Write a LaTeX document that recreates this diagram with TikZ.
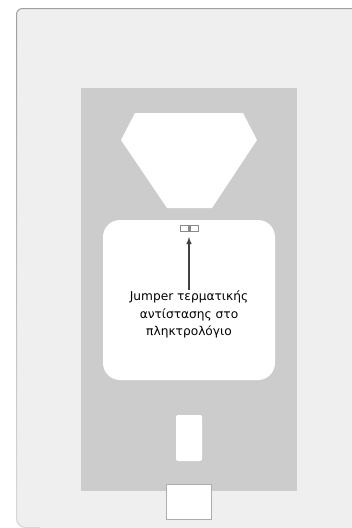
\documentclass[tikz,border=0pt]{standalone}
\usepackage{fontspec}
\setmainfont{DejaVu Sans}
\definecolor{casefill}{HTML}{EFEFEF}
\definecolor{caseline}{HTML}{A0A0A0}
\definecolor{boardfill}{HTML}{CCCCCC}
\definecolor{jumperline}{HTML}{8A8A8A}
\tikzset{
    cutout/.style={fill=white,draw=none},
    jumperpin/.style={draw=jumperline,line width=1.5pt,fill=white,minimum width=8.5pt,minimum height=6pt,inner sep=0pt},
    label/.style={font=\fontsize{12.2pt}{17.6pt}\selectfont,text=black,align=center,inner sep=1pt},
}
\begin{document}
\begin{tikzpicture}[x=1pt,y=-1pt]
    \useasboundingbox (0,0) rectangle (352,528);
    \fill[white] (0,0) rectangle (352,528);
    % housing and board
    \fill[casefill,rounded corners=9pt] (16,8) -- (370,8) -- (370,528) -- (16,528) -- cycle;
    \draw[caseline,line width=1pt,rounded corners=6pt] (16.5,20) -- (16.5,8.5) -- (352,8.5);
    \shade[top color=caseline,bottom color=caseline!30!casefill] (16,20) rectangle (17,516);
    \draw[caseline!30!casefill,line width=1pt,rounded corners=9pt] (16.5,516) -- (16.5,527.5) -- (40,527.5);
    \fill[boardfill] (81,88) rectangle (297,491);
    % openings
    \fill[cutout] (135,113) -- (243,113) -- (257,140) -- (212,208) -- (167,208) -- (121,140) -- cycle;
    \fill[cutout,rounded corners=17pt] (103,220) rectangle (275,380);
    \fill[cutout,rounded corners=2pt] (176,415) rectangle (202,461);
    \draw[fill=white,draw=boardfill!85!black] (166.5,484.5) rectangle (211.5,519);
    % jumper
    \node[jumperpin] (jmpa) at (184.5,228.5) {};
    \node[jumperpin] (jmpb) at (194,228.5) {};
    \node[label] (jmptext) at (189,314.5) {Jumper τερματικής\\αντίστασης στο\\πληκτρολόγιο};
    \coordinate (jmptip) at (189,237);
    \draw[-latex,line width=1.4pt,black!75] (jmptext.north) -- (jmptip);
\end{tikzpicture}
\end{document}
